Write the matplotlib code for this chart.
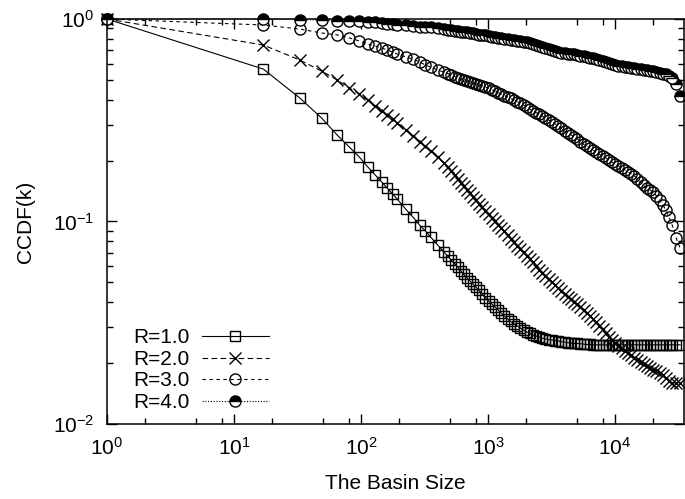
import matplotlib
matplotlib.use("Agg")
import matplotlib.pyplot as plt
from matplotlib.ticker import LogLocator, NullFormatter

plt.rcParams['font.family'] = ['Liberation Sans', 'DejaVu Sans']
plt.rcParams['font.size'] = 15
plt.rcParams['mathtext.fontset'] = 'custom'
plt.rcParams['mathtext.rm'] = 'Liberation Sans'
plt.rcParams['lines.scale_dashes'] = False

# basin sizes
basin_size = [1, 17, 33, 49, 65, 81, 97, 113, 129, 145,
              161, 177, 193, 225, 257, 289, 321, 353, 401, 449,
              481, 513, 545, 577, 609, 641, 681, 721, 761, 801,
              849, 897, 953, 1009, 1073, 1137, 1201, 1265, 1345, 1425,
              1505, 1601, 1697, 1793, 1905, 2017, 2129, 2257, 2385, 2529,
              2673, 2833, 3009, 3185, 3377, 3569, 3777, 4001, 4241, 4497,
              4769, 5041, 5329, 5649, 5985, 6337, 6705, 7105, 7521, 7969,
              8449, 8945, 9473, 10033, 10625, 11249, 11921, 12609, 13377, 14145,
              15009, 15873, 16833, 17793, 18865, 19953, 21153, 22385, 23745, 25105,
              26641, 28177, 30289, 32497]

ccdf_r1 = [1.0, 0.566, 0.407, 0.324, 0.267, 0.233, 0.208, 0.186, 0.170, 0.157,
           0.146, 0.137, 0.129, 0.115, 0.105, 0.096, 0.0898, 0.0838, 0.0766, 0.0707,
           0.0675, 0.0645, 0.0620, 0.0596, 0.0572, 0.0550, 0.0528, 0.0508, 0.0491, 0.0475,
           0.0457, 0.0439, 0.0421, 0.0405, 0.0391, 0.0378, 0.0365, 0.0353, 0.0341, 0.0330,
           0.0321, 0.0312, 0.0305, 0.0298, 0.0291, 0.0285, 0.0280, 0.0275, 0.0272, 0.0269,
           0.0266, 0.0263, 0.0261, 0.0260, 0.0258, 0.0257, 0.0255, 0.0254, 0.0252, 0.0251,
           0.0250, 0.0250, 0.0249, 0.0248, 0.0247, 0.0247, 0.0246, 0.0246, 0.0246, 0.0246,
           0.0246, 0.0246, 0.0246, 0.0246, 0.0246, 0.0246, 0.0246, 0.0246, 0.0246, 0.0246,
           0.0246, 0.0246, 0.0246, 0.0246, 0.0246, 0.0246, 0.0246, 0.0246, 0.0246, 0.0246,
           0.0246, 0.0246, 0.0246, 0.0246]

ccdf_r2 = [1.0, 0.744, 0.627, 0.553, 0.500, 0.456, 0.426, 0.398, 0.372, 0.351,
           0.336, 0.321, 0.3065, 0.283, 0.264, 0.247, 0.236, 0.223, 0.208, 0.1945,
           0.1860, 0.1776, 0.170, 0.162, 0.155, 0.1497, 0.1437, 0.1382, 0.1328, 0.1277,
           0.1227, 0.1179, 0.1133, 0.1089, 0.1046, 0.1006, 0.0966, 0.0929, 0.0893, 0.0858,
           0.0824, 0.0792, 0.0761, 0.0731, 0.0703, 0.0676, 0.0653, 0.0631, 0.0603, 0.0576,
           0.0556, 0.0538, 0.0520, 0.0502, 0.0485, 0.0469, 0.0454, 0.0439, 0.0426, 0.0414,
           0.0402, 0.0391, 0.0378, 0.0366, 0.0353, 0.0341, 0.0330, 0.0319, 0.0306, 0.0294,
           0.0281, 0.0269, 0.0260, 0.0251, 0.0244, 0.0237, 0.0230, 0.0224, 0.0218, 0.0212,
           0.0207, 0.0202, 0.0197, 0.0193, 0.0189, 0.0185, 0.0182, 0.0179, 0.0175, 0.0168,
           0.0163, 0.0160, 0.0159, 0.0159]

ccdf_r3 = [1.0, 0.934, 0.892, 0.853, 0.834, 0.806, 0.779, 0.752, 0.736, 0.719,
           0.703, 0.687, 0.672, 0.649, 0.634, 0.613, 0.593, 0.579, 0.560, 0.547,
           0.538, 0.529, 0.520, 0.511, 0.505, 0.500, 0.494, 0.489, 0.483, 0.478,
           0.472, 0.467, 0.461, 0.456, 0.448, 0.441, 0.433, 0.426, 0.419, 0.412,
           0.405, 0.398, 0.391, 0.385, 0.376, 0.368, 0.359, 0.351, 0.345, 0.340,
           0.332, 0.324, 0.317, 0.310, 0.303, 0.296, 0.288, 0.280, 0.274, 0.268,
           0.262, 0.256, 0.248, 0.241, 0.236, 0.231, 0.225, 0.220, 0.215, 0.211,
           0.206, 0.201, 0.196, 0.192, 0.188, 0.184, 0.180, 0.176, 0.172, 0.168,
           0.163, 0.157, 0.151, 0.146, 0.143, 0.140, 0.134, 0.128, 0.121, 0.114,
           0.105, 0.096, 0.083, 0.074]

ccdf_r4 = [1.0, 1.0, 0.994, 0.989, 0.983, 0.978, 0.972, 0.967, 0.961, 0.956,
           0.950, 0.945, 0.939, 0.929, 0.924, 0.918, 0.913, 0.908, 0.903, 0.892,
           0.887, 0.882, 0.877, 0.872, 0.867, 0.863, 0.858, 0.853, 0.848, 0.843,
           0.838, 0.834, 0.829, 0.824, 0.819, 0.815, 0.810, 0.806, 0.801, 0.797,
           0.792, 0.788, 0.783, 0.779, 0.774, 0.770, 0.761, 0.752, 0.744, 0.736,
           0.727, 0.719, 0.711, 0.703, 0.695, 0.687, 0.683, 0.679, 0.675, 0.672,
           0.668, 0.664, 0.660, 0.657, 0.651, 0.645, 0.639, 0.634, 0.627, 0.620,
           0.613, 0.606, 0.599, 0.593, 0.589, 0.586, 0.582, 0.579, 0.576, 0.573,
           0.569, 0.566, 0.563, 0.560, 0.556, 0.551, 0.546, 0.541, 0.538, 0.535,
           0.525, 0.511, 0.478, 0.417]

labels = ['R=1.0', 'R=2.0', 'R=3.0', 'R=4.0']

fig = plt.figure(figsize=(6.85, 4.99), dpi=100)
ax = fig.add_axes([107/685, 1-424/499, 577/685, 405/499])

lw = 0.8
mw = 1.0
ax.plot(basin_size, ccdf_r1, color='k', lw=lw, ls='-', marker='s', ms=7,
        mfc='none', mec='k', mew=mw, clip_on=False, label=labels[0])
ax.plot(basin_size, ccdf_r2, color='k', lw=lw, dashes=(4, 2.5), marker='x', ms=8,
        mec='k', mew=mw, clip_on=False, label=labels[1])
ax.plot(basin_size, ccdf_r3, color='k', lw=lw, dashes=(2.5, 2.5), marker='o', ms=8,
        mfc='none', mec='k', mew=mw, clip_on=False, label=labels[2])
ax.plot(basin_size, ccdf_r4, color='k', lw=lw, dashes=(0.8, 1.2), marker='o', ms=8,
        fillstyle='top', mfc='k', markerfacecoloralt='white', mec='k', mew=mw,
        clip_on=False, label=labels[3])

ax.set_xscale('log')
ax.set_yscale('log')
ax.set_xlim(1, 34900)
ax.set_ylim(0.01, 1)

ax.xaxis.set_minor_locator(LogLocator(base=10, subs=(2, 5, 8)))
ax.yaxis.set_minor_locator(LogLocator(base=10, subs=range(2, 10)))
ax.xaxis.set_minor_formatter(NullFormatter())
ax.yaxis.set_minor_formatter(NullFormatter())

ax.tick_params(which='both', direction='in', top=True, right=True, width=1)
ax.tick_params(which='major', length=7)
ax.tick_params(which='minor', length=4)
ax.tick_params(axis='x', pad=9)
ax.tick_params(axis='y', pad=9)
for s in ax.spines.values():
    s.set_linewidth(1.1)

ax.set_xlabel('The Basin Size', labelpad=11)
ax.set_ylabel('CCDF(k)', labelpad=13)

ax.legend(loc='lower left', bbox_to_anchor=(0.045, 0.03), frameon=False,
          markerfirst=False, handlelength=3.2, handletextpad=0.6,
          labelspacing=0.12, borderpad=0, borderaxespad=0)

fig.savefig('out.png', dpi=100)
